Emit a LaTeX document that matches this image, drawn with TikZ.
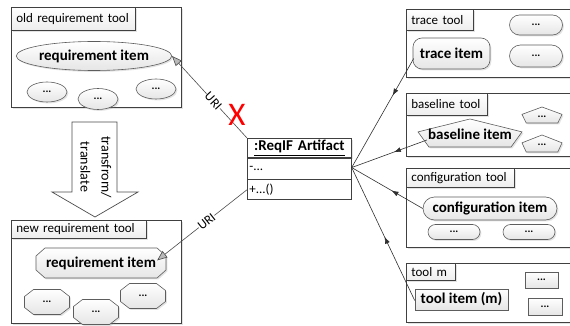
\documentclass[tikz,border=0pt]{standalone}
\usepackage{fontspec}
\setmainfont{Carlito}
\usetikzlibrary{shapes.geometric,shapes.misc,shadows,arrows.meta,decorations.markings,calc}

\definecolor{edge}{HTML}{404040}
\definecolor{wire}{HTML}{303030}

\tikzset{
  shade/.style={drop shadow={shadow xshift=1.4pt,shadow yshift=-1.4pt,opacity=0.22}},
  toolbox/.style={draw=edge,line width=0.8pt,fill=white,shade,anchor=north west,inner sep=0pt},
  tab/.style={draw=edge,line width=0.7pt,top color=white,bottom color=gray!14,shade,
    anchor=north west,inner xsep=5pt,inner ysep=0pt,text width=#1,align=left,
    font=\fontsize{13}{15}\selectfont},
  itempath/.style={draw=edge!85,line width=0.6pt,top color=white,bottom color=gray!20,shade},
  item/.style={itempath,inner sep=0pt,font=\bfseries\fontsize{15}{18}\selectfont},
  dots/.style={item,font=\bfseries\fontsize{11}{13}\selectfont},
  label/.style={inner sep=0pt},
  artrow/.style={draw=edge,line width=0.7pt,fill=white,anchor=north west,
    minimum width=104pt,inner xsep=2pt,inner ysep=0pt,text width=100pt},
  uri/.style={draw=gray!60!black,line width=0.6pt,
    -{Triangle[length=10pt,width=8pt,fill=gray!55]}},
  urilabel/.style={sloped,fill=white,inner sep=0.5pt,font=\fontsize{13}{15}\selectfont},
  link/.style={draw=wire,line width=0.6pt},
  midarrow/.style={postaction={decorate},decoration={markings,
    mark=at position #1 with {\arrow{Latex[length=7pt,width=5pt]}}}},
}

% chamfered (eight-sided) item: name, cx, cy, half width, half height, chamfer x, chamfer y, text
\newcommand\octitem[8]{%
  \draw[itempath] (#2-#4+#6,#3-#5) -- (#2+#4-#6,#3-#5) -- (#2+#4,#3-#5+#7)
    -- (#2+#4,#3+#5-#7) -- (#2+#4-#6,#3+#5) -- (#2-#4+#6,#3+#5)
    -- (#2-#4,#3+#5-#7) -- (#2-#4,#3-#5+#7) -- cycle;
  \node[label] (#1) at (#2,#3) {#8};}

% five-sided item, apex up: name, cx, top, half width, height, text y, text
\newcommand\pentitem[7]{%
  \draw[itempath] (#2,#3) -- (#2+#4,#3+0.46*#5) -- (#2+0.79*#4,#3+#5)
    -- (#2-0.79*#4,#3+#5) -- (#2-#4,#3+0.46*#5) -- cycle;
  \node[label] (#1) at (#2,#6) {#7};}

\begin{document}
\begin{tikzpicture}[x=1pt,y=-1pt]
\useasboundingbox (0,0) rectangle (570,326);
\clip (0,0) rectangle (570,326);

% ---------------- old requirement tool ----------------
\node[toolbox,minimum width=170pt,minimum height=100pt] (oldtool) at (11,7) {};
\node[tab=114pt,minimum height=23pt] (oldtab) at (oldtool.north west) {old requirement tool};
\node[item,ellipse,minimum width=143pt,minimum height=29pt] (reqold) at (94,56) {requirement item};
\node[dots,ellipse,minimum width=40pt,minimum height=20pt] (od1) at (47,92) {...};
\node[dots,ellipse,minimum width=40pt,minimum height=21pt] (od2) at (98,99) {...};
\node[dots,ellipse,minimum width=40pt,minimum height=20pt] (od3) at (156,89) {...};

% ---------------- transformation arrow ----------------
\draw[draw=gray!60!black,line width=0.7pt,fill=white]
  (72,122) -- (117,122) -- (117,192) -- (138,192) -- (95,217) -- (52,192) -- (72,192) -- cycle;
\node[rotate=-90,align=center,font=\fontsize{14}{21}\selectfont] (trans) at (96,167)
  {transfrom/\\translate};

% ---------------- new requirement tool ----------------
\node[toolbox,minimum width=170pt,minimum height=103pt] (newtool) at (11,220) {};
\node[tab=125pt,minimum height=18pt] (newtab) at (newtool.north west) {new requirement tool};
\octitem{reqnew}{101}{263}{65}{15}{9}{8}{\bfseries\fontsize{15}{18}\selectfont requirement item}
\octitem{nd1}{47}{302}{22.5}{12.5}{9}{7}{\bfseries\fontsize{11}{13}\selectfont ...}
\octitem{nd2}{96}{312}{22.5}{12.5}{9}{7}{\bfseries\fontsize{11}{13}\selectfont ...}
\octitem{nd3}{143}{296}{22.5}{12.5}{9}{7}{\bfseries\fontsize{11}{13}\selectfont ...}

% ---------------- ReqIF artifact ----------------
\node[artrow,minimum height=19pt,shade,align=center,font=\bfseries\fontsize{15}{18}\selectfont]
  (arttitle) at (247,138) {\underline{:ReqIF Artifact}};
\node[artrow,minimum height=21pt,align=left,font=\fontsize{13}{15}\selectfont]
  (artattr) at (arttitle.south west) {-...};
\node[artrow,minimum height=20pt,align=left,font=\fontsize{13}{15}\selectfont]
  (artop) at (artattr.south west) {+...()};
\coordinate (hub) at ($(artattr.east)+(0,-1)$);

% ---------------- trace tool ----------------
\node[toolbox,minimum width=180pt,minimum height=68pt] (tracetool) at (406,9) {};
\node[tab=57pt,minimum height=21pt] (tracetab) at (tracetool.north west) {trace tool};
\node[item,rectangle,rounded corners=9pt,minimum width=77pt,minimum height=31pt]
  (traceitem) at (451.5,53.5) {trace item};
\node[dots,rounded rectangle,minimum width=53pt,minimum height=20pt] (td1) at (536,25) {...};
\node[dots,rounded rectangle,minimum width=53pt,minimum height=22pt] (td2) at (536,56) {...};

% ---------------- baseline tool ----------------
\node[toolbox,minimum width=180pt,minimum height=63pt] (basetool) at (406,93) {};
\node[tab=71pt,minimum height=22pt] (basetab) at (basetool.north west) {baseline tool};
\pentitem{baseitem}{470}{119}{52}{28}{134}{\bfseries\fontsize{15}{18}\selectfont baseline item}
\pentitem{bd1}{542}{107}{20}{16}{117}{\bfseries\fontsize{11}{13}\selectfont ...}
\pentitem{bd2}{542}{135}{20}{17}{145}{\bfseries\fontsize{11}{13}\selectfont ...}

% ---------------- configuration tool ----------------
\node[toolbox,minimum width=180pt,minimum height=79pt] (conftool) at (406,168) {};
\node[tab=98pt,minimum height=19pt] (conftab) at (conftool.north west) {configuration tool};
\node[item,rounded rectangle,minimum width=134pt,minimum height=23pt]
  (confitem) at (490,208.5) {configuration item};
\node[dots,rounded rectangle,minimum width=52pt,minimum height=15pt] (cd1) at (454,232) {...};
\node[dots,rounded rectangle,minimum width=52pt,minimum height=15pt] (cd2) at (529,232) {...};

% ---------------- tool m ----------------
\node[toolbox,minimum width=180pt,minimum height=59pt] (mtool) at (406,263) {};
\node[tab=39pt,minimum height=17pt] (mtab) at (mtool.north west) {tool m};
\node[item,rectangle,minimum width=93pt,minimum height=21pt] (mitem) at (461.5,299.5) {tool item (m)};
\node[dots,rectangle,minimum width=33pt,minimum height=16pt] (md1) at (541.5,280) {...};
\node[dots,rectangle,minimum width=34pt,minimum height=17pt] (md2) at (545,306.5) {...};

% ---------------- links to the artifact ----------------
\draw[link,midarrow=0.34] ($(traceitem.west)+(1,5)$) -- (hub);
\draw[link,midarrow=0.44] ($(baseitem.west)+(-1,6)$) -- (hub);
\draw[link,midarrow=0.44] (confitem.west) -- (hub);
\draw[link,midarrow=0.48] ($(mitem.west)+(0,1)$) -- (hub);

% ---------------- URI references ----------------
\draw[uri] (arttitle.north west) -- node[urilabel,pos=0.45] (uriold) {URI} (reqold.east);
\draw[uri] (artop.west) -- node[urilabel,pos=0.45] (urinew) {URI} ($(reqnew.north east)+(1,4)$);
\node[text=red,inner sep=0pt,font=\fontsize{33}{33}\selectfont] (broken) at (237,115) {X};
\end{tikzpicture}
\end{document}
